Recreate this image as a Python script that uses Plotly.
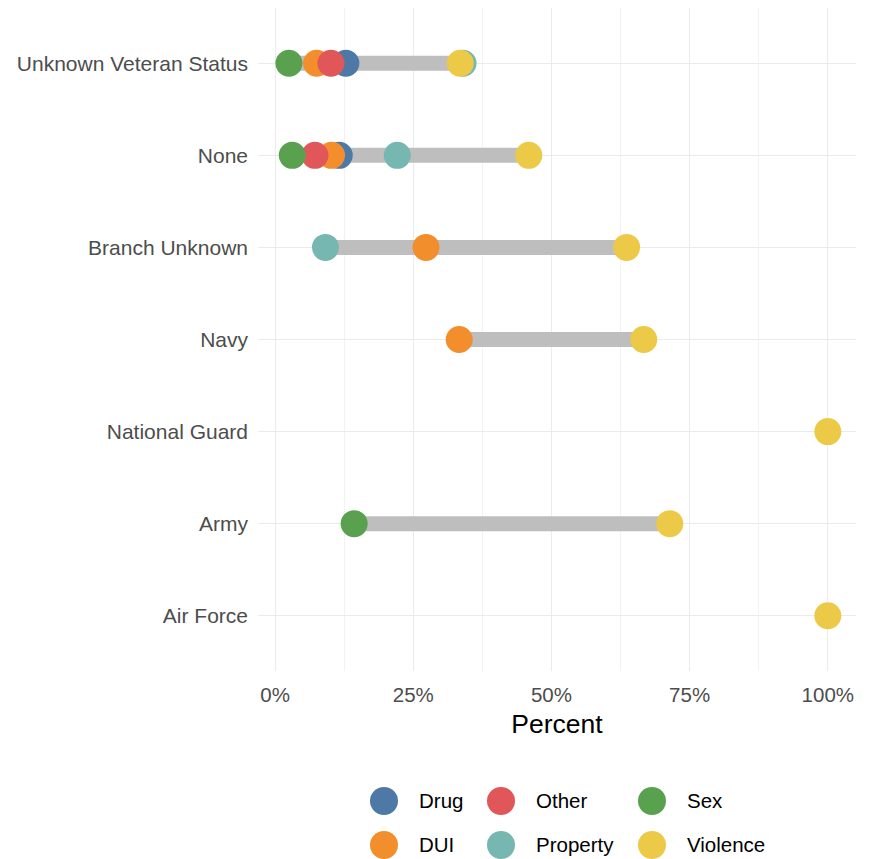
import plotly.graph_objects as go

branches = ["Air Force", "Army", "National Guard", "Navy", "Branch Unknown", "None", "Unknown Veteran Status"]
categories = ["Drug", "DUI", "Other", "Property", "Sex", "Violence"]
colors = ["#4E79A7", "#F28E2B", "#E15759", "#76B7B2", "#59A14F", "#EDC948"]

# percent per branch (None = not present)
drug     = [None, None, None, None, None, 11.6, 12.8]
dui      = [None, None, None, 33.3, 27.3, 10.2, 7.5]
other    = [None, None, None, None, None, 7.2, 10.1]
prop     = [None, None, None, None, 9.1, 22.1, 34.0]
sex      = [None, 14.3, None, None, None, 3.1, 2.5]
violence = [100.0, 71.4, 100.0, 66.7, 63.6, 45.9, 33.5]
values = [drug, dui, other, prop, sex, violence]

fig = go.Figure()

# gray segments from min to max per branch
for i, b in enumerate(branches):
    vals = [v[i] for v in values if v[i] is not None]
    if len(vals) > 1:
        fig.add_trace(go.Scatter(
            x=[min(vals), max(vals)], y=[b, b], mode="lines",
            line=dict(color="#BEBEBE", width=15), showlegend=False, hoverinfo="skip"))

for cat, col, vals in zip(categories, colors, values):
    xs = [v for v in vals if v is not None]
    ys = [b for b, v in zip(branches, vals) if v is not None]
    fig.add_trace(go.Scatter(
        x=xs, y=ys, mode="markers", name=cat, showlegend=False,
        marker=dict(color=col, size=27, line=dict(width=0))))

# custom legend (3 columns x 2 rows, filled column-wise), in its own invisible axes
leg_col_x = [384, 501, 652]
leg_row_y = [801, 845]
leg_x = [leg_col_x[i // 2] for i in range(len(categories))]
leg_y = [leg_row_y[i % 2] for i in range(len(categories))]
fig.add_trace(go.Scatter(
    x=leg_x, y=leg_y, mode="markers", xaxis="x2", yaxis="y2",
    marker=dict(color=colors, size=28, line=dict(width=0)),
    showlegend=False, hoverinfo="skip", cliponaxis=False))
fig.add_trace(go.Scatter(
    x=[x + 35 for x in leg_x], y=[y + 1.5 for y in leg_y], mode="text", xaxis="x2", yaxis="y2",
    text=categories, textposition="middle right",
    textfont=dict(size=20.5, color="black"),
    showlegend=False, hoverinfo="skip", cliponaxis=False))

fig.update_layout(
    width=865, height=851,
    margin=dict(l=250, r=17, t=0, b=0),
    plot_bgcolor="white", paper_bgcolor="white",
    font=dict(family="Liberation Sans, Arial, sans-serif", size=20.5, color="#4D4D4D"),
    showlegend=False,
    xaxis=dict(
        domain=[0, 1], anchor="y",
        range=[-3.1, 105.1], tickvals=[0, 25, 50, 75, 100],
        ticktext=["0%", "25%", "50%", "75%", "100%"],
        showgrid=True, gridcolor="#EBEBEB", gridwidth=1.3,
        minor=dict(tickvals=[12.5, 37.5, 62.5, 87.5], showgrid=True, gridcolor="#F2F2F2", gridwidth=0.8),
        zeroline=False, showline=False, ticks="", ticklabelstandoff=10,
        tickfont=dict(size=20.5, color="#4D4D4D"),
        title=dict(text="Percent", font=dict(size=26.5, color="black"), standoff=8),
    ),
    yaxis=dict(
        domain=[0.22092, 1], anchor="x",
        categoryorder="array", categoryarray=branches,
        range=[-0.6, 6.6],
        showgrid=True, gridcolor="#EBEBEB", gridwidth=1.3,
        zeroline=False, showline=False, ticks="", ticklabelstandoff=9,
        tickfont=dict(size=21, color="#4D4D4D"),
    ),
    xaxis2=dict(domain=[0, 1], anchor="y2", range=[258, 856], visible=False, fixedrange=True),
    yaxis2=dict(domain=[0, 0.2], anchor="x2", range=[859, 688.8], visible=False, fixedrange=True),
)

fig.write_html("out.html")
